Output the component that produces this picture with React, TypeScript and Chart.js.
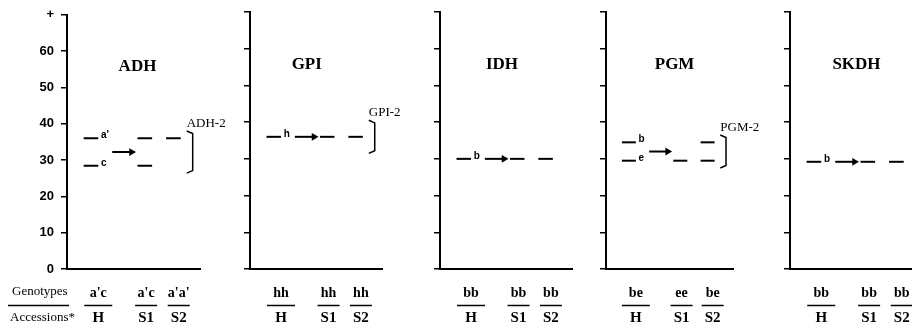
import React, { useEffect, useRef } from 'react';
import { Chart, registerables } from 'chart.js';

Chart.register(...registerables);

// ---------- data ----------
const ENZYMES = ['ADH', 'GPI', 'IDH', 'PGM', 'SKDH'];
const LOCI = ['ADH-2', 'GPI-2', '', 'PGM-2', ''];
const ACCESSIONS = ['H', 'S1', 'S2'];
const Y_TICKS = [0, 10, 20, 30, 40, 50, 60, 70];
const Y_TICK_LABELS = ['0', '10', '20', '30', '40', '50', '60', '+'];

const ADH_GENOTYPES = ["a'c", "a'c", "a'a'"];
const GPI_GENOTYPES = ['hh', 'hh', 'hh'];
const IDH_GENOTYPES = ['bb', 'bb', 'bb'];
const PGM_GENOTYPES = ['be', 'ee', 'be'];
const SKDH_GENOTYPES = ['bb', 'bb', 'bb'];

const ADH_ALLELES = ["a'", 'c'];
const GPI_ALLELES = ['h'];
const IDH_ALLELES = ['b'];
const PGM_ALLELES = ['b', 'e'];
const SKDH_ALLELES = ['b'];

// relative mobility of bands, per accession lane (H, S1, S2)
const ADH_BANDS = [[36, 28.4], [36, 28.4], [36]];
const GPI_BANDS = [[36], [36], [36]];
const IDH_BANDS = [[30], [30], [30]];
const PGM_BANDS = [[34.5, 29.5], [29.5], [34.5, 29.5]];
const SKDH_BANDS = [[29.2], [29.2], [29.2]];

const PANELS = [
  { name: ENZYMES[0], locus: LOCI[0], genotypes: ADH_GENOTYPES, alleles: ADH_ALLELES, bands: ADH_BANDS },
  { name: ENZYMES[1], locus: LOCI[1], genotypes: GPI_GENOTYPES, alleles: GPI_ALLELES, bands: GPI_BANDS },
  { name: ENZYMES[2], locus: LOCI[2], genotypes: IDH_GENOTYPES, alleles: IDH_ALLELES, bands: IDH_BANDS },
  { name: ENZYMES[3], locus: LOCI[3], genotypes: PGM_GENOTYPES, alleles: PGM_ALLELES, bands: PGM_BANDS },
  { name: ENZYMES[4], locus: LOCI[4], genotypes: SKDH_GENOTYPES, alleles: SKDH_ALLELES, bands: SKDH_BANDS },
];

// ---------- layout ----------
const CANVAS_W = 930;
const CANVAS_H = 329;
const PANEL_LEFT = [67, 250, 440, 606, 790];
const PANEL_WIDTH = [133, 132, 132, 127, 133];
const TITLE_X = [5.3, 4.3, 4.7, 5.4, 5.0];
const TITLE_Y = 55.6;
const BAND_LANE_X = [1.8, 5.85, 8.0];
const LABEL_LANE_X = [2.35, 5.95, 8.4];
const UNDERLINE_W = [28, 22, 22];
const BAND_HALF = 0.55;
const ARROW_X = [3.4, 4.85];
const BRACKET_X = [9.0, 9.45];
const Y_AXIS_W = 50;
const PLOT_TOP = 12;
const PLOT_BOTTOM = 269;

const BLACK = '#000';

function makeConfig(p: any, idx: number): any {
  const datasets: any[] = [];
  p.bands.forEach((lane: number[], li: number) => {
    lane.forEach((v: number) => {
      datasets.push({
        data: [
          { x: BAND_LANE_X[li] - BAND_HALF, y: v },
          { x: BAND_LANE_X[li] + BAND_HALF, y: v },
        ],
        showLine: true,
        borderColor: BLACK,
        borderWidth: 2,
        pointRadius: 0,
      });
    });
  });
  const hBands: number[] = p.bands[0];
  const arrowY = hBands.reduce((a: number, b: number) => a + b, 0) / hBands.length;
  datasets.push({
    data: [
      { x: ARROW_X[0], y: arrowY },
      { x: ARROW_X[1], y: arrowY },
    ],
    showLine: true,
    borderColor: BLACK,
    borderWidth: 2,
    pointRadius: [0, 4.5],
    pointStyle: 'triangle',
    rotation: 90,
    pointBackgroundColor: BLACK,
    pointBorderColor: BLACK,
    pointBorderWidth: 0,
  });
  let bracketTop = 0;
  if (p.locus) {
    const all: number[] = ([] as number[]).concat(...p.bands);
    const mx = Math.max(...all);
    const mn = Math.min(...all);
    let top = mx + 2;
    let bot = mn - 2;
    if (top - bot < 9) {
      const c = (top + bot) / 2;
      top = c + 4.5;
      bot = c - 4.5;
    }
    bracketTop = top;
    datasets.push({
      data: [
        { x: BRACKET_X[0], y: top },
        { x: BRACKET_X[1], y: top - 0.7 },
        { x: BRACKET_X[1], y: bot + 0.7 },
        { x: BRACKET_X[0], y: bot },
      ],
      showLine: true,
      borderColor: BLACK,
      borderWidth: 1.5,
      pointRadius: 0,
    });
  }

  const textPlugin = {
    id: 'panelText' + idx,
    afterDraw(chart: any) {
      const { ctx, scales, chartArea } = chart;
      const xs = scales.x;
      const ys = scales.y;
      ctx.save();
      ctx.fillStyle = BLACK;
      ctx.strokeStyle = BLACK;
      // title
      ctx.font = 'bold 17px "Liberation Serif"';
      ctx.textAlign = 'center';
      ctx.textBaseline = 'middle';
      ctx.fillText(p.name, xs.getPixelForValue(TITLE_X[idx]), ys.getPixelForValue(TITLE_Y));
      // locus label
      if (p.locus) {
        ctx.font = '13px "Liberation Serif"';
        ctx.textAlign = 'left';
        ctx.fillText(p.locus, xs.getPixelForValue(BRACKET_X[0]), ys.getPixelForValue(bracketTop + 2));
      }
      // allele labels next to H lane bands
      ctx.font = 'bold 10px "Liberation Sans"';
      ctx.textAlign = 'left';
      hBands.forEach((v: number, j: number) => {
        ctx.fillText(
          p.alleles[j],
          xs.getPixelForValue(BAND_LANE_X[0] + BAND_HALF + 0.2),
          ys.getPixelForValue(v + 0.8)
        );
      });
      // genotypes / accessions
      const gy = chartArea.bottom + 24;
      const uy = chartArea.bottom + 36.5;
      const ay = chartArea.bottom + 49;
      ctx.lineWidth = 1.5;
      ctx.textAlign = 'center';
      LABEL_LANE_X.forEach((lx, li) => {
        const px = xs.getPixelForValue(lx);
        ctx.font = 'bold 14px "Liberation Serif"';
        ctx.fillText(p.genotypes[li], px, gy);
        ctx.beginPath();
        ctx.moveTo(px - UNDERLINE_W[li] / 2, uy);
        ctx.lineTo(px + UNDERLINE_W[li] / 2, uy);
        ctx.stroke();
        ctx.font = 'bold 15px "Liberation Serif"';
        ctx.fillText(ACCESSIONS[li], px, ay);
      });
      if (idx === 0) {
        ctx.font = '13px "Liberation Serif"';
        ctx.textAlign = 'left';
        ctx.fillText('Genotypes', 12, gy - 1);
        ctx.beginPath();
        ctx.moveTo(8, uy);
        ctx.lineTo(69, uy);
        ctx.stroke();
        ctx.fillText('Accessions*', 10, ay);
      }
      ctx.restore();
    },
  };

  return {
    type: 'scatter',
    data: { datasets },
    plugins: [textPlugin],
    options: {
      responsive: false,
      animation: false,
      events: [],
      layout: {
        padding: {
          left: PANEL_LEFT[idx] - Y_AXIS_W,
          right: CANVAS_W - PANEL_LEFT[idx] - PANEL_WIDTH[idx],
          top: PLOT_TOP,
          bottom: CANVAS_H - PLOT_BOTTOM,
        },
      },
      plugins: {
        legend: { display: false },
        tooltip: { enabled: false },
        title: { display: false },
      },
      scales: {
        x: {
          type: 'linear',
          min: 0,
          max: 10,
          ticks: { display: false },
          grid: { display: false },
          border: { display: true, color: BLACK, width: 2 },
          afterFit: (s: any) => {
            s.height = 0;
          },
        },
        y: {
          type: 'linear',
          min: 0,
          max: 70,
          afterBuildTicks: (s: any) => {
            s.ticks = Y_TICKS.map((v) => ({ value: v }));
          },
          ticks: {
            display: idx === 0,
            callback: (v: number) => Y_TICK_LABELS[Y_TICKS.indexOf(v)],
            font: { family: '"Liberation Sans"', size: 13, weight: 'bold' },
            color: BLACK,
            padding: 7,
          },
          grid: {
            drawOnChartArea: false,
            drawTicks: true,
            tickLength: 6,
            color: BLACK,
            lineWidth: 1.5,
          },
          border: { display: true, color: BLACK, width: 2 },
          afterFit: (s: any) => {
            s.width = Y_AXIS_W;
          },
        },
      },
    },
  };
}

export default function App() {
  const refs = useRef<(HTMLCanvasElement | null)[]>([]);
  useEffect(() => {
    const charts = PANELS.map((p, i) => new Chart(refs.current[i] as HTMLCanvasElement, makeConfig(p, i)));
    return () => {
      charts.forEach((c) => c.destroy());
    };
  }, []);
  return (
    <div
      style={{
        position: 'fixed',
        left: 0,
        top: 0,
        width: 912,
        height: 329,
        overflow: 'hidden',
        background: '#fff',
      }}
    >
      {PANELS.map((p, i) => (
        <canvas
          key={p.name}
          ref={(el) => {
            refs.current[i] = el;
          }}
          width={CANVAS_W}
          height={CANVAS_H}
          style={{ position: 'absolute', left: 0, top: 0, width: CANVAS_W, height: CANVAS_H }}
        />
      ))}
    </div>
  );
}
